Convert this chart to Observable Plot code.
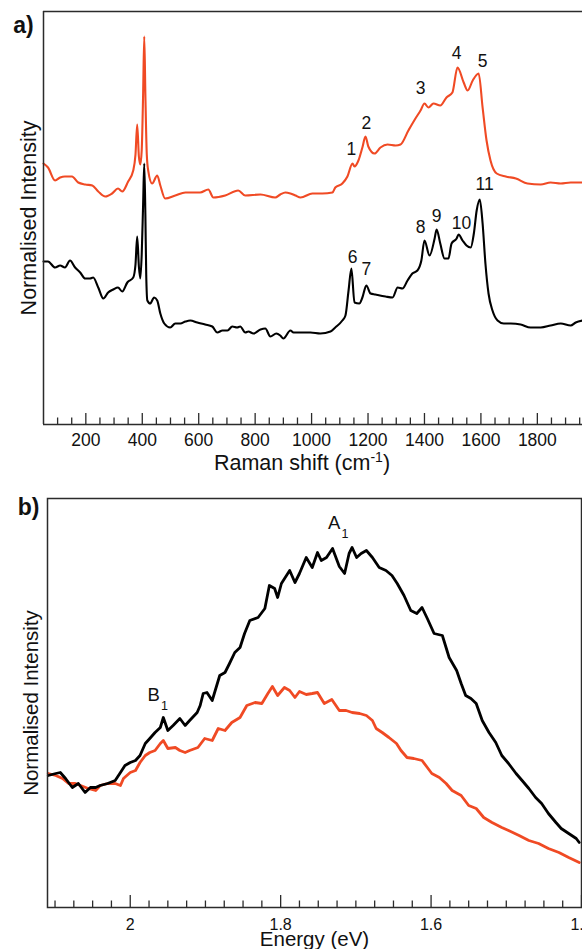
<!DOCTYPE html>
<html>
<head>
<meta charset="utf-8">
<script src="https://cdn.jsdelivr.net/npm/d3@7"></script>
<script src="https://cdn.jsdelivr.net/npm/@observablehq/plot@0.6"></script>
<style>
  html, body { margin: 0; padding: 0; background: #fff; }
  #wrap { position: relative; width: 582px; height: 949px; overflow: hidden; }
  #wrap svg { position: absolute; left: 0; }
</style>
</head>
<body>
<div id="wrap"></div>
<script>
// ---------- Panel a: Raman spectra ----------
const ramanRed = [[50,2.61],[66,2.57],[91,2.44],[109,2.47],[126,2.48],[151,2.48],[173,2.42],[198,2.40],[223,2.39],[244,2.33],[269,2.28],[293,2.31],[314,2.36],[329,2.33],[350,2.43],[368,2.54],[376,2.70],[382,3.00],[388,2.68],[393,2.60],[398,2.74],[403,3.30],[407,3.88],[411,3.30],[416,2.70],[421,2.54],[435,2.41],[453,2.49],[464,2.39],[481,2.26],[517,2.29],[553,2.32],[605,2.32],[634,2.35],[652,2.27],[694,2.29],[740,2.34],[765,2.29],[819,2.30],[871,2.27],[889,2.30],[907,2.32],[925,2.31],[943,2.29],[961,2.27],[1003,2.31],[1038,2.31],[1074,2.32],[1084,2.37],[1109,2.41],[1127,2.48],[1145,2.61],[1152,2.58],[1166,2.64],[1180,2.77],[1191,2.88],[1201,2.78],[1223,2.71],[1244,2.77],[1269,2.80],[1298,2.79],[1315,2.80],[1343,2.94],[1368,3.06],[1386,3.14],[1400,3.21],[1414,3.17],[1432,3.21],[1456,3.19],[1478,3.27],[1499,3.32],[1517,3.57],[1539,3.42],[1553,3.34],[1571,3.44],[1592,3.51],[1606,3.17],[1620,2.84],[1634,2.64],[1656,2.51],[1688,2.48],[1724,2.46],[1765,2.41],[1812,2.40],[1847,2.42],[1883,2.41],[1918,2.42],[1960,2.42]];

const ramanBlack = [[50,1.63],[66,1.63],[91,1.57],[109,1.59],[126,1.57],[144,1.64],[162,1.57],[180,1.52],[198,1.46],[215,1.46],[226,1.47],[244,1.37],[262,1.26],[279,1.32],[297,1.35],[314,1.37],[329,1.33],[347,1.42],[368,1.47],[376,1.60],[382,1.88],[388,1.58],[393,1.46],[398,1.70],[403,2.20],[407,2.61],[411,2.10],[414,1.50],[418,1.24],[428,1.21],[442,1.27],[453,1.24],[464,1.11],[478,1.01],[499,0.97],[517,1.01],[535,1.01],[553,1.03],[570,1.04],[595,1.02],[623,1.00],[648,0.98],[666,0.92],[684,0.94],[702,0.94],[719,0.98],[736,0.97],[747,0.98],[765,0.92],[776,0.93],[794,0.91],[819,0.95],[836,0.96],[854,0.88],[875,0.91],[889,0.89],[900,0.86],[925,0.94],[936,0.92],[961,0.92],[996,0.92],[1031,0.91],[1067,0.93],[1084,0.97],[1109,1.04],[1120,1.09],[1131,1.34],[1141,1.56],[1152,1.22],[1169,1.21],[1180,1.27],[1194,1.39],[1209,1.31],[1226,1.30],[1262,1.28],[1287,1.27],[1305,1.37],[1322,1.36],[1340,1.44],[1357,1.51],[1375,1.54],[1389,1.64],[1400,1.84],[1418,1.69],[1436,1.86],[1443,1.95],[1456,1.81],[1471,1.66],[1485,1.66],[1496,1.81],[1514,1.86],[1521,1.90],[1535,1.84],[1549,1.79],[1564,1.77],[1575,1.91],[1585,2.14],[1596,2.25],[1606,2.01],[1616,1.61],[1627,1.31],[1641,1.14],[1659,1.04],[1681,1.01],[1706,1.01],[1741,1.00],[1776,0.97],[1812,0.97],[1847,0.99],[1883,1.01],[1918,0.99],[1936,1.02],[1960,1.04]];

const peakLabelsRed = [["1",1141,2.75],["2",1194,3.01],["3",1386,3.36],["4",1514,3.71],["5",1606,3.63]];
const peakLabelsBlack = [["6",1145,1.67],["7",1194,1.55],["8",1386,1.97],["9",1443,2.08],["10",1531,2.01],["11",1613,2.40]];

const ramanDomain = [50, 1960];
const ramanMajorTicks = [200,400,600,800,1000,1200,1400,1600,1800];
const ramanTickLabels = ["200","400","600","800","1000","1200","1400","1600","1800"];
const ramanMinorStep = 50;

// ---------- Panel b: PL spectra ----------
const plBlack = [[2.109,1.32],[2.099,1.34],[2.093,1.35],[2.086,1.29],[2.077,1.20],[2.069,1.24],[2.060,1.15],[2.053,1.20],[2.046,1.20],[2.040,1.22],[2.030,1.24],[2.020,1.27],[2.013,1.35],[2.007,1.42],[2.000,1.45],[1.993,1.47],[1.987,1.52],[1.980,1.64],[1.974,1.69],[1.967,1.75],[1.960,1.80],[1.956,1.90],[1.950,1.77],[1.943,1.82],[1.934,1.89],[1.927,1.82],[1.921,1.87],[1.911,1.95],[1.907,2.02],[1.903,2.14],[1.898,2.15],[1.891,2.07],[1.881,2.32],[1.874,2.35],[1.868,2.44],[1.861,2.55],[1.854,2.60],[1.848,2.74],[1.841,2.87],[1.830,2.90],[1.821,2.99],[1.815,3.22],[1.808,3.19],[1.804,3.10],[1.799,3.24],[1.788,3.37],[1.781,3.25],[1.775,3.34],[1.766,3.50],[1.758,3.40],[1.751,3.55],[1.746,3.47],[1.739,3.50],[1.731,3.59],[1.722,3.41],[1.715,3.34],[1.709,3.54],[1.705,3.60],[1.699,3.50],[1.693,3.54],[1.686,3.57],[1.678,3.50],[1.669,3.40],[1.660,3.37],[1.652,3.32],[1.645,3.24],[1.636,3.12],[1.627,2.97],[1.619,2.94],[1.612,3.00],[1.605,2.89],[1.596,2.74],[1.585,2.72],[1.576,2.50],[1.566,2.37],[1.560,2.24],[1.554,2.12],[1.547,2.09],[1.540,2.04],[1.532,1.87],[1.523,1.75],[1.514,1.65],[1.506,1.52],[1.497,1.44],[1.487,1.34],[1.479,1.27],[1.470,1.19],[1.461,1.10],[1.453,1.04],[1.444,0.94],[1.434,0.85],[1.427,0.79],[1.417,0.74],[1.407,0.69],[1.403,0.65]];

const plRed = [[2.109,1.34],[2.099,1.32],[2.090,1.29],[2.082,1.24],[2.073,1.24],[2.066,1.22],[2.056,1.19],[2.046,1.17],[2.040,1.22],[2.030,1.24],[2.020,1.24],[2.013,1.22],[2.009,1.29],[2.000,1.35],[1.993,1.37],[1.987,1.45],[1.980,1.52],[1.974,1.55],[1.967,1.57],[1.960,1.64],[1.956,1.67],[1.950,1.59],[1.940,1.60],[1.934,1.57],[1.927,1.55],[1.921,1.57],[1.910,1.60],[1.901,1.69],[1.891,1.67],[1.883,1.79],[1.874,1.77],[1.865,1.85],[1.854,1.90],[1.845,2.02],[1.834,2.05],[1.825,2.04],[1.817,2.14],[1.811,2.21],[1.804,2.12],[1.795,2.20],[1.788,2.17],[1.781,2.10],[1.775,2.16],[1.766,2.13],[1.758,2.14],[1.751,2.15],[1.742,2.04],[1.732,2.08],[1.722,1.97],[1.713,1.97],[1.705,1.95],[1.695,1.94],[1.686,1.92],[1.678,1.87],[1.673,1.79],[1.665,1.75],[1.656,1.70],[1.646,1.64],[1.640,1.57],[1.632,1.50],[1.623,1.49],[1.612,1.47],[1.605,1.40],[1.599,1.34],[1.589,1.30],[1.580,1.24],[1.572,1.17],[1.560,1.12],[1.550,1.02],[1.540,0.99],[1.530,0.90],[1.519,0.85],[1.506,0.80],[1.497,0.77],[1.483,0.72],[1.470,0.67],[1.457,0.64],[1.444,0.59],[1.430,0.55],[1.417,0.50],[1.403,0.45]];

const plLabels = [["A","1",1.729,3.84],["B","1",1.969,2.12]];

const energyDomain = [2.11, 1.4];
const energyMajorTicks = [2.0, 1.8, 1.6, 1.4];
const energyTickLabels = ["2", "1.8", "1.6", "1.4"];
const energyMinorStep = 0.025;

// ---------- Styling ----------
const RED = "#f04a24";
const AXIS = "#2b2b2b";
const INK = "#111";
const FONT = "'Liberation Sans', Arial, Helvetica, sans-serif";

const wrap = document.getElementById("wrap");
const toObj = a => a.map(([x, y]) => ({x, y}));

// ---------- Panel a ----------
{
  const H = 480, mt = 11, mb = 56, frameH = H - mt - mb;
  const minor = d3.range(100, 1960, ramanMinorStep).filter(v => !ramanMajorTicks.includes(v));
  const top = 4.13;
  const plot = Plot.plot({
    width: 582, height: H,
    marginTop: mt, marginBottom: mb, marginLeft: 43, marginRight: 0,
    x: {domain: ramanDomain},
    y: {domain: [0, top], axis: null},
    style: {fontFamily: FONT, fontSize: "17.5px", color: "#000", background: "transparent", overflow: "visible"},
    marks: [
      Plot.line(toObj(ramanRed), {x: "x", y: "y", stroke: RED, strokeWidth: 2.1, curve: "monotone-x"}),
      Plot.line(toObj(ramanBlack), {x: "x", y: "y", stroke: "#000", strokeWidth: 2.1, curve: "monotone-x"}),
      Plot.text(peakLabelsRed, {x: d => d[1], y: d => d[2], text: d => d[0], fontSize: 17.5, fill: INK}),
      Plot.text(peakLabelsBlack, {x: d => d[1], y: d => d[2], text: d => d[0], fontSize: 17.5, fill: INK}),
      Plot.ruleY([0], {stroke: AXIS, strokeWidth: 1.5}),
      Plot.ruleY([top], {stroke: AXIS, strokeWidth: 1.5}),
      Plot.ruleX([ramanDomain[0]], {stroke: AXIS, strokeWidth: 1.5}),
      Plot.ruleX(ramanMajorTicks, {x: d => d, insetTop: frameH - 11, stroke: AXIS, strokeWidth: 1.3}),
      Plot.ruleX(minor, {x: d => d, insetTop: frameH - 6.5, stroke: AXIS, strokeWidth: 1.3}),
      Plot.axisX(ramanMajorTicks, {tickSize: 0, tickPadding: 9, fontSize: 17.5, label: null, fill: INK,
        tickFormat: d => ramanTickLabels[ramanMajorTicks.indexOf(d)]}),
      Plot.text(["Raman shift (cm-1)"], {frameAnchor: "bottom", dx: -11, dy: 39, fontSize: 21.5, lineAnchor: "middle", fill: INK}),
      Plot.text(["Normalised Intensity"], {frameAnchor: "left", rotate: -90, dx: -14, fontSize: 21.5, textAnchor: "middle", lineAnchor: "middle", fill: INK}),
      Plot.text(["a)"], {frameAnchor: "top-left", dx: -20, dy: 14, fontSize: 23, fontWeight: "bold", textAnchor: "middle", lineAnchor: "middle", fill: INK})
    ]
  });
  plot.style.top = "0px";
  wrap.appendChild(plot);
}

// ---------- Panel b ----------
{
  const H = 469, mt = 18, mb = 42, frameH = H - mt - mb;
  const minor = d3.range(1.4, 2.11, energyMinorStep).map(v => +v.toFixed(3)).filter(v => !energyMajorTicks.some(m => Math.abs(m - v) < 1e-6));
  const top = 4.09;
  const plot = Plot.plot({
    width: 582, height: H,
    marginTop: mt, marginBottom: mb, marginLeft: 47, marginRight: 1,
    x: {domain: energyDomain},
    y: {domain: [0, top], axis: null},
    style: {fontFamily: FONT, fontSize: "16px", color: "#000", background: "transparent", overflow: "visible"},
    marks: [
      Plot.line(toObj(plRed), {x: "x", y: "y", stroke: RED, strokeWidth: 2.8}),
      Plot.line(toObj(plBlack), {x: "x", y: "y", stroke: "#000", strokeWidth: 2.8}),
      Plot.text(plLabels, {x: d => d[2], y: d => d[3], text: d => d[0], fontSize: 18.5, fill: INK}),
      Plot.text(plLabels, {x: d => d[2], y: d => d[3], text: d => d[1], fontSize: 12.5, dx: 11, dy: 10, fill: INK}),
      Plot.frame({stroke: AXIS, strokeWidth: 1.5}),
      Plot.ruleX(energyMajorTicks, {x: d => d, insetTop: frameH - 12, stroke: AXIS, strokeWidth: 1.3}),
      Plot.ruleX(minor, {x: d => d, insetTop: frameH - 6.5, stroke: AXIS, strokeWidth: 1.3}),
      Plot.axisX(energyMajorTicks, {tickSize: 0, tickPadding: 11, fontSize: 16, label: null, fill: INK,
        tickFormat: d => energyTickLabels[energyMajorTicks.indexOf(d)]}),
      Plot.text(["Energy (eV)"], {frameAnchor: "bottom", dy: 32, fontSize: 20.5, lineAnchor: "middle", fill: INK}),
      Plot.text(["Normalised Intensity"], {frameAnchor: "left", rotate: -90, dx: -16, fontSize: 20.5, textAnchor: "middle", lineAnchor: "middle", fill: INK}),
      Plot.text(["b)"], {frameAnchor: "top-left", dx: -19, dy: 9, fontSize: 23, fontWeight: "bold", textAnchor: "middle", lineAnchor: "middle", fill: INK})
    ]
  });
  plot.style.top = "480px";
  wrap.appendChild(plot);
}

// superscript for the Raman axis title
d3.select(wrap).selectAll("text").filter(function() { return this.textContent === "Raman shift (cm-1)"; })
  .each(function() {
    const t = d3.select(this);
    t.text("Raman shift (cm");
    t.append("tspan").attr("font-size", "14px").attr("dy", "-8").text("-1");
    t.append("tspan").attr("dy", "8").text(")");
  });
</script>
</body>
</html>
